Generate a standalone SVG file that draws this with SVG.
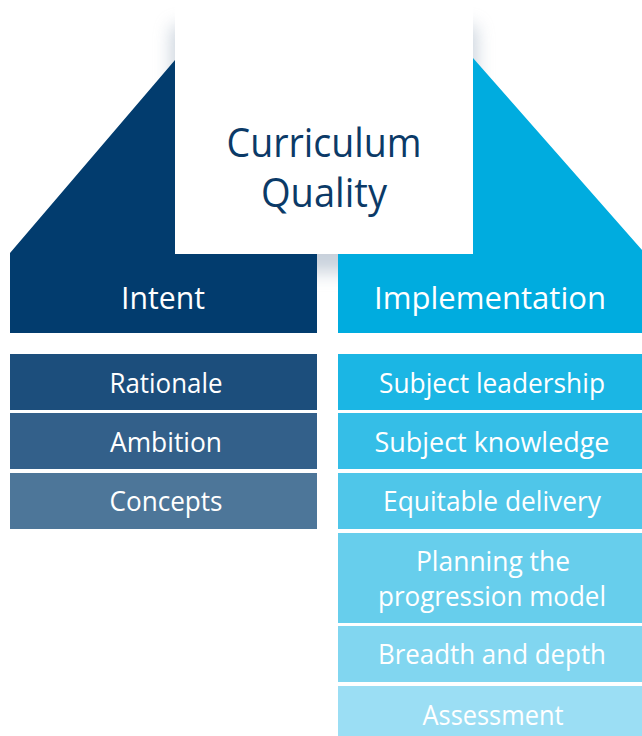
<svg xmlns="http://www.w3.org/2000/svg" width="642" height="736" viewBox="0 0 642 736">
  <defs>
    <filter id="soft" x="-20%" y="-20%" width="140%" height="140%">
      <feGaussianBlur stdDeviation="9"/>
    </filter>
    <style>
      .lbl { font-family: "Open Sans", "Noto Sans", "Liberation Sans", sans-serif; fill: #ffffff; text-anchor: middle; }
      .item { font-size: 27.5px; }
      .head { font-size: 31px; }
      .title { font-family: "Open Sans", "Noto Sans", "Liberation Sans", sans-serif; fill: #0b3a67; font-size: 40px; text-anchor: middle; }
    </style>
  </defs>
  <rect width="642" height="736" fill="#ffffff"/>

  <!-- shadow of the title box -->
  <rect x="172" y="26" width="304" height="246" fill="#9aaabd" opacity="0.55" filter="url(#soft)"/>

  <g id="intent">
    <polygon points="10,253 175,60 175,254 317,254 317,333 10,333" fill="#023c6e"/>
    <text class="lbl head" x="163" y="309" textLength="84" lengthAdjust="spacingAndGlyphs">Intent</text>
  </g>
  <g id="implementation">
    <polygon points="473,58 642,250 642,333 338,333 338,254 473,254" fill="#00acdf"/>
    <text class="lbl head" x="490" y="309" textLength="232" lengthAdjust="spacingAndGlyphs">Implementation</text>
  </g>

  <g id="curriculum-quality">
    <rect x="175" y="0" width="298" height="254" fill="#ffffff"/>
    <text class="title" x="324" y="157" textLength="195" lengthAdjust="spacingAndGlyphs">Curriculum</text>
    <text class="title" x="324" y="207" textLength="126" lengthAdjust="spacingAndGlyphs">Quality</text>
  </g>

  <g id="rationale">
    <rect x="10" y="354" width="307" height="56" fill="#1c4e7c"/>
    <text class="lbl item" x="166" y="393" textLength="113" lengthAdjust="spacingAndGlyphs">Rationale</text>
  </g>
  <g id="ambition">
    <rect x="10" y="413" width="307" height="56" fill="#33608a"/>
    <text class="lbl item" x="166" y="452" textLength="112" lengthAdjust="spacingAndGlyphs">Ambition</text>
  </g>
  <g id="concepts">
    <rect x="10" y="473" width="307" height="56" fill="#4d7699"/>
    <text class="lbl item" x="166" y="511" textLength="113" lengthAdjust="spacingAndGlyphs">Concepts</text>
  </g>

  <g id="subject-leadership">
    <rect x="338" y="354" width="304" height="56" fill="#1bb6e4"/>
    <text class="lbl item" x="492" y="393" textLength="226" lengthAdjust="spacingAndGlyphs">Subject leadership</text>
  </g>
  <g id="subject-knowledge">
    <rect x="338" y="413" width="304" height="56" fill="#35bee7"/>
    <text class="lbl item" x="492" y="452" textLength="235" lengthAdjust="spacingAndGlyphs">Subject knowledge</text>
  </g>
  <g id="equitable-delivery">
    <rect x="338" y="473" width="304" height="56" fill="#4fc6e9"/>
    <text class="lbl item" x="492" y="511" textLength="218" lengthAdjust="spacingAndGlyphs">Equitable delivery</text>
  </g>
  <g id="planning">
    <rect x="338" y="533" width="304" height="90" fill="#67ceec"/>
    <text class="lbl item" x="493" y="571" textLength="154" lengthAdjust="spacingAndGlyphs">Planning the</text>
    <text class="lbl item" x="492" y="606" textLength="228" lengthAdjust="spacingAndGlyphs">progression model</text>
  </g>
  <g id="breadth-depth">
    <rect x="338" y="626" width="304" height="56" fill="#81d6f0"/>
    <text class="lbl item" x="492" y="664" textLength="228" lengthAdjust="spacingAndGlyphs">Breadth and depth</text>
  </g>
  <g id="assessment">
    <rect x="338" y="686" width="304" height="50" fill="#9bdef4"/>
    <text class="lbl item" x="493" y="725" textLength="141" lengthAdjust="spacingAndGlyphs">Assessment</text>
  </g>

  <g id="connectors"></g>
</svg>
